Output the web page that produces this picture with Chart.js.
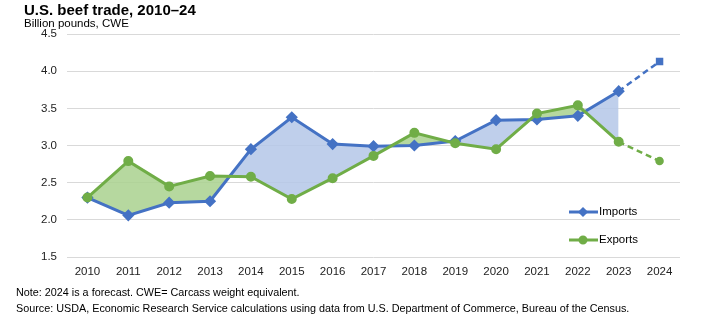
<!DOCTYPE html>
<html>
<head>
<meta charset="utf-8">
<script src="https://cdn.jsdelivr.net/npm/chart.js@4/dist/chart.umd.min.js"></script>
<style>
    body { margin: 0; background: #fff; font-family: "Liberation Sans", Arial, sans-serif; }
    #box { position: relative; width: 704px; height: 326px; }
    #grafico { position: absolute; left: 0; top: 0; }
    .titulo { position: absolute; left: 24px; top: 1px; font-size: 15px; font-weight: bold; color: #000; }
    .subtitulo { position: absolute; left: 24px; top: 17px; font-size: 11.5px; color: #000; }
    .nota { position: absolute; left: 16px; font-size: 10.8px; color: #000; }
</style>
</head>
<body>
<div id="box">
    <canvas id="grafico" width="704" height="326"></canvas>
    <div class="titulo">U.S. beef trade, 2010–24</div>
    <div class="subtitulo">Billion pounds, CWE</div>
    <div class="nota" style="top: 286px;">Note: 2024 is a forecast. CWE= Carcass weight equivalent.</div>
    <div class="nota" style="top: 302px;">Source: USDA, Economic Research Service calculations using data from U.S. Department of Commerce, Bureau of the Census.</div>
</div>
<script>
// dados
const anos = ['2010', '2011', '2012', '2013', '2014', '2015', '2016', '2017', '2018', '2019', '2020', '2021', '2022', '2023', '2024'];
const importacoes = [2.30, 2.06, 2.23, 2.25, 2.95, 3.38, 3.02, 2.99, 3.00, 3.06, 3.34, 3.35, 3.40, 3.73, 4.13];
const exportacoes = [2.30, 2.79, 2.45, 2.59, 2.58, 2.28, 2.56, 2.86, 3.17, 3.03, 2.95, 3.43, 3.54, 3.05, 2.79];
const ticksY = [1.5, 2.0, 2.5, 3.0, 3.5, 4.0, 4.5];

const azul = '#4472c4';
const verde = '#70ad47';

// 2024 e previsao: parte solida ate 2023, tracejada de 2023 a 2024
function parteReal(serie) {
    return serie.map((v, i) => i < serie.length - 1 ? v : null);
}
function partePrevisao(serie) {
    return serie.map((v, i) => i >= serie.length - 2 ? v : null);
}

// legenda desenhada dentro da area do grafico
const legendaInterna = {
    id: 'legendaInterna',
    afterDraw(chart) {
        const ctx = chart.ctx;
        const itens = [
            { nome: 'Imports', cor: azul, estilo: 'rectRot', y: 212 },
            { nome: 'Exports', cor: verde, estilo: 'circle', y: 240 }
        ];
        ctx.save();
        itens.forEach((item) => {
            ctx.strokeStyle = item.cor;
            ctx.lineWidth = 3;
            ctx.beginPath();
            ctx.moveTo(569, item.y);
            ctx.lineTo(598, item.y);
            ctx.stroke();
            ctx.fillStyle = item.cor;
            Chart.helpers.drawPoint(ctx, { pointStyle: item.estilo, radius: 3, borderWidth: 1 }, 583, item.y);
            ctx.fillStyle = '#000';
            ctx.font = '11.5px "Liberation Sans", Arial, sans-serif';
            ctx.textBaseline = 'middle';
            ctx.fillText(item.nome, 599, item.y);
        });
        ctx.restore();
    }
};

function plotarGrafico() {
    const dados = {
        labels: anos,
        datasets: [
            {
                label: 'Imports',
                data: parteReal(importacoes),
                order: 1,
                borderColor: azul,
                backgroundColor: azul,
                borderWidth: 3,
                pointStyle: 'rectRot',
                pointRadius: 4,
                pointBorderColor: azul,
                pointBackgroundColor: azul,
                tension: 0,
                fill: { target: 1, above: 'rgba(180,199,231,0.85)', below: 'rgba(169,209,142,0.85)' }
            },
            {
                label: 'Exports',
                data: parteReal(exportacoes),
                order: 0,
                borderColor: verde,
                backgroundColor: verde,
                borderWidth: 3,
                pointStyle: 'circle',
                pointRadius: 3.5,
                pointBorderColor: verde,
                pointBackgroundColor: verde,
                tension: 0,
                fill: false
            },
            {
                label: 'Imports forecast',
                data: partePrevisao(importacoes),
                order: 1,
                borderColor: azul,
                borderWidth: 2.5,
                borderDash: [6, 4],
                pointStyle: 'rect',
                pointRadius: (c) => c.dataIndex === anos.length - 1 ? 3.5 : 0,
                pointBackgroundColor: azul,
                pointBorderColor: azul,
                fill: false
            },
            {
                label: 'Exports forecast',
                data: partePrevisao(exportacoes),
                order: 0,
                borderColor: verde,
                borderWidth: 2.5,
                borderDash: [6, 4],
                pointStyle: 'circle',
                pointRadius: (c) => c.dataIndex === anos.length - 1 ? 3 : 0,
                pointBackgroundColor: verde,
                pointBorderColor: verde,
                fill: false
            }
        ]
    };

    const config = {
        type: 'line',
        data: dados,
        plugins: [legendaInterna],
        options: {
            responsive: false,
            animation: false,
            layout: { padding: { top: 34, right: 24, bottom: 39, left: 0 } },
            plugins: {
                legend: { display: false },
                tooltip: { enabled: false },
                filler: { drawTime: 'beforeDatasetsDraw' }
            },
            scales: {
                x: {
                    offset: true,
                    grid: { display: false, drawTicks: false },
                    border: { display: false },
                    ticks: {
                        color: '#222',
                        font: { family: '"Liberation Sans", Arial, sans-serif', size: 11.5 },
                        maxRotation: 0,
                        autoSkip: false,
                        padding: 8
                    },
                    afterFit(scale) { scale.height = 30; }
                },
                y: {
                    min: 1.5,
                    max: 4.5,
                    afterBuildTicks(scale) { scale.ticks = ticksY.map((v) => ({ value: v })); },
                    grid: { color: '#d9d9d9', lineWidth: 1, drawTicks: false },
                    border: { display: false },
                    ticks: {
                        color: '#222',
                        font: { family: '"Liberation Sans", Arial, sans-serif', size: 11.5 },
                        padding: 10,
                        callback: (v) => Number(v).toFixed(1)
                    },
                    afterFit(scale) { scale.width = 67; }
                }
            }
        }
    };

    let myChart = new Chart(document.getElementById('grafico'), config);
}

plotarGrafico();
</script>
</body>
</html>
